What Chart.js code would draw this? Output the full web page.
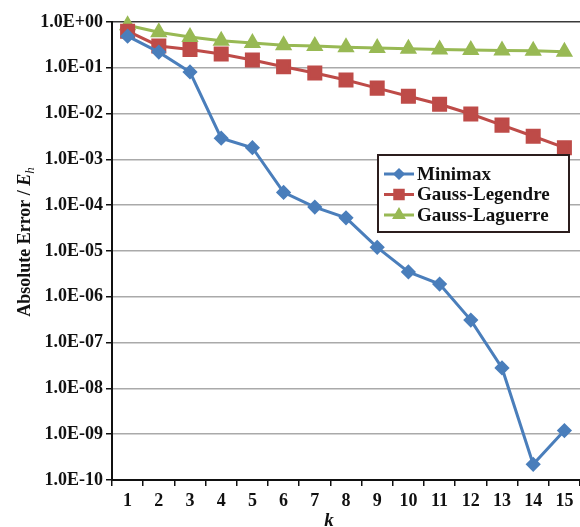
<!DOCTYPE html>
<html>
<head>
<meta charset="utf-8">
<script src="https://cdn.jsdelivr.net/npm/chart.js@4.4.1/dist/chart.umd.min.js"></script>
<style>
  html, body { margin: 0; padding: 0; background: #fff; }
</style>
</head>
<body>
<canvas id="errors" width="580" height="527"></canvas>
<script>
const kValues = ['1','2','3','4','5','6','7','8','9','10','11','12','13','14','15'];

const minimax = [0.49, 0.22, 0.081, 0.0029, 0.0018, 1.9e-4, 9.1e-5, 5.3e-5, 1.2e-5, 3.5e-6, 1.9e-6, 3.1e-7, 2.8e-8, 2.2e-10, 1.2e-9];
const gaussLegendre = [0.63, 0.30, 0.25, 0.20, 0.148, 0.105, 0.077, 0.054, 0.036, 0.024, 0.016, 0.0098, 0.0056, 0.0032, 0.0018];
const gaussLaguerre = [0.85, 0.60, 0.47, 0.39, 0.35, 0.31, 0.30, 0.28, 0.27, 0.26, 0.25, 0.245, 0.24, 0.235, 0.225];

const yTickValues = [1, 1e-1, 1e-2, 1e-3, 1e-4, 1e-5, 1e-6, 1e-7, 1e-8, 1e-9, 1e-10];
const yTickLabels = ['1.0E+00', '1.0E-01', '1.0E-02', '1.0E-03', '1.0E-04', '1.0E-05',
                     '1.0E-06', '1.0E-07', '1.0E-08', '1.0E-09', '1.0E-10'];

const SERIF = '"Liberation Serif", "Times New Roman", serif';

// boxed legend inside the plot, Excel style
const boxLegend = {
  id: 'boxLegend',
  afterDraw(chart) {
    const { ctx } = chart;
    const x = 378, y = 155, w = 191, h = 77;
    ctx.save();
    ctx.fillStyle = '#fff';
    ctx.fillRect(x, y, w, h);
    ctx.strokeStyle = '#2b1d1d';
    ctx.lineWidth = 2;
    ctx.strokeRect(x, y, w, h);
    ctx.font = 'bold 19px ' + SERIF;
    ctx.textBaseline = 'middle';
    chart.data.datasets.forEach((ds, i) => {
      const cy = y + 19 + i * 20.5;
      ctx.strokeStyle = ds.borderColor;
      ctx.lineWidth = 3;
      ctx.beginPath();
      ctx.moveTo(x + 6, cy);
      ctx.lineTo(x + 36, cy);
      ctx.stroke();
      ctx.fillStyle = ds.borderColor;
      Chart.helpers.drawPoint(ctx, {
        pointStyle: ds.pointStyle,
        radius: ds.legendRadius,
        rotation: 0,
        borderWidth: 1
      }, x + 21, cy);
      ctx.fillStyle = '#111';
      ctx.fillText(ds.label, x + 39, cy + 1);
    });
    ctx.restore();
  }
};

// axis titles with italic E and subscript h
const axisTitles = {
  id: 'axisTitles',
  afterDraw(chart) {
    const { ctx } = chart;
    ctx.save();
    ctx.fillStyle = '#111';
    ctx.textBaseline = 'alphabetic';

    const part1 = 'Absolute Error / ';
    const f1 = 'bold 18px ' + SERIF;
    const f2 = 'bold italic 18px ' + SERIF;
    const f3 = 'italic 13px ' + SERIF;
    ctx.font = f1; const w1 = ctx.measureText(part1).width;
    ctx.font = f2; const w2 = ctx.measureText('E').width;
    ctx.font = f3; const w3 = ctx.measureText('h').width;
    const total = w1 + w2 + w3;
    ctx.translate(30, 242);
    ctx.rotate(-Math.PI / 2);
    let px = -total / 2;
    ctx.font = f1; ctx.fillText(part1, px, 0); px += w1;
    ctx.font = f2; ctx.fillText('E', px, 0); px += w2;
    ctx.font = f3; ctx.fillText('h', px, 4);
    ctx.setTransform(1, 0, 0, 1, 0, 0);

    ctx.font = 'bold italic 19px ' + SERIF;
    ctx.textAlign = 'center';
    ctx.fillText('k', 329, 526);
    ctx.restore();
  }
};

new Chart(document.getElementById('errors'), {
  type: 'line',
  plugins: [axisTitles, boxLegend],
  data: {
    labels: kValues,
    datasets: [
      {
        label: 'Minimax',
        data: minimax,
        borderColor: '#4a7ebb',
        backgroundColor: '#4a7ebb',
        pointStyle: 'rectRot',
        pointRadius: 5.5,
        legendRadius: 4,
        borderWidth: 3,
        clip: false
      },
      {
        label: 'Gauss-Legendre',
        data: gaussLegendre,
        borderColor: '#be4b48',
        backgroundColor: '#be4b48',
        pointStyle: 'rect',
        pointRadius: 8.5,
        legendRadius: 6,
        borderWidth: 3,
        clip: false
      },
      {
        label: 'Gauss-Laguerre',
        data: gaussLaguerre,
        borderColor: '#98b954',
        backgroundColor: '#98b954',
        pointStyle: 'triangle',
        pointRadius: 7,
        legendRadius: 5,
        borderWidth: 3,
        clip: false
      }
    ]
  },
  options: {
    responsive: false,
    animation: false,
    layout: { autoPadding: false, padding: { top: 22, right: 0, left: 0, bottom: 0 } },
    elements: {
      line: { tension: 0 },
      point: { borderWidth: 0, hoverRadius: 6 }
    },
    plugins: {
      legend: { display: false },
      tooltip: { enabled: false }
    },
    scales: {
      x: {
        offset: true,
        afterFit(scale) {
          scale.height = 47;
          scale.paddingLeft = 0;
          scale.paddingRight = 0;
        },
        grid: {
          offset: true,
          drawOnChartArea: false,
          drawTicks: true,
          tickLength: 6,
          tickColor: '#111',
          lineWidth: 1.5
        },
        border: { color: '#111', width: 2 },
        ticks: {
          color: '#111',
          padding: 5,
          maxRotation: 0,
          autoSkip: false,
          font: { family: SERIF, size: 18, weight: 'bold' }
        }
      },
      y: {
        type: 'logarithmic',
        min: 1e-10,
        max: 1,
        afterFit(scale) { scale.width = 112; },
        afterBuildTicks(scale) {
          scale.ticks = yTickValues.map(v => ({ value: v }));
        },
        grid: {
          color: ctx => (ctx.tick && ctx.tick.value === 1 ? '#3a3a3a' : '#aaaaaa'),
          lineWidth: 1.5,
          tickLength: 6,
          tickColor: '#111'
        },
        border: { color: '#111', width: 2 },
        ticks: {
          color: '#111',
          padding: 3,
          font: { family: SERIF, size: 18, weight: 'bold' },
          callback: value => {
            const i = yTickValues.findIndex(v => Math.abs(Math.log10(v) - Math.log10(value)) < 1e-6);
            return i >= 0 ? yTickLabels[i] : null;
          }
        }
      }
    }
  }
});
</script>
</body>
</html>
